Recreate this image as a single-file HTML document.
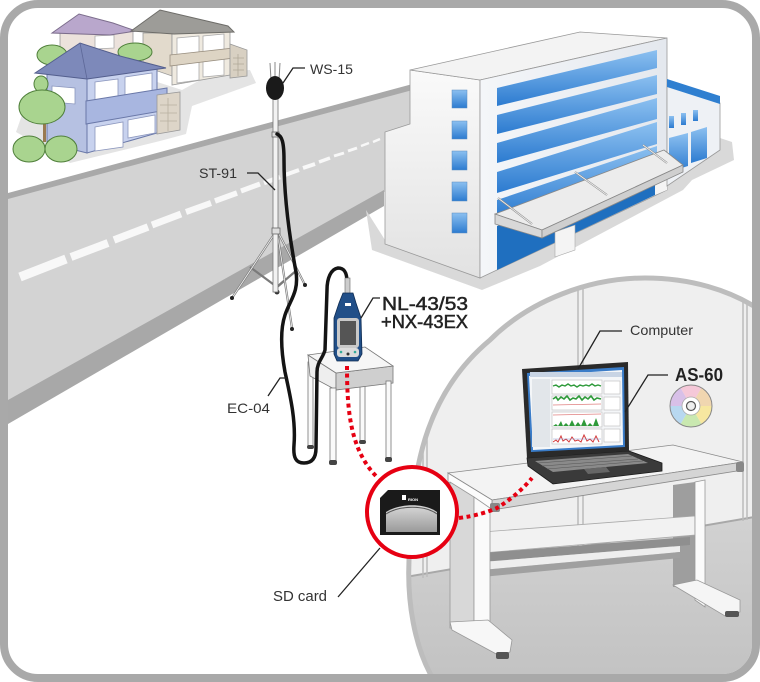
<!DOCTYPE html>
<html><head><meta charset="utf-8"><style>
html,body{margin:0;padding:0;background:#fff;}
svg{display:block;}
text{font-family:"Liberation Sans",Arial,sans-serif;}
</style></head><body>
<svg width="760" height="682" viewBox="0 0 760 682" xmlns="http://www.w3.org/2000/svg">
<defs>
<clipPath id="inner"><rect x="8" y="8" width="744" height="666" rx="30"/></clipPath>
<clipPath id="circ"><path d="M435,682 C415,650 405,600 410,545 C412,460 430,390 490,340 C530,300 590,278 645,278 C690,278 730,290 760,310 L760,682 Z"/></clipPath>
<linearGradient id="bb" x1="0" y1="0" x2="0" y2="1"><stop offset="0" stop-color="#8cc0f0"/><stop offset="1" stop-color="#2c7bd0"/></linearGradient>
<linearGradient id="lf" x1="0" y1="0" x2="0" y2="1"><stop offset="0" stop-color="#fafafa"/><stop offset="1" stop-color="#e2e2e2"/></linearGradient>
<linearGradient id="ff" x1="0" y1="0" x2="1" y2="0"><stop offset="0" stop-color="#f4f6f9"/><stop offset="1" stop-color="#e4e8ee"/></linearGradient>
<linearGradient id="floor" x1="0" y1="0" x2="0" y2="1"><stop offset="0" stop-color="#d2d2d2"/><stop offset="1" stop-color="#c2c2c2"/></linearGradient>
<linearGradient id="sd" x1="0" y1="0" x2="0" y2="1"><stop offset="0" stop-color="#d8d8d8"/><stop offset="1" stop-color="#9a9a9a"/></linearGradient>
</defs>
<rect width="760" height="682" fill="#fff"/>
<g clip-path="url(#inner)">
<rect x="0" y="0" width="760" height="682" fill="#fff"/>

<!-- houses ground shadow -->
<polygon points="16,132 70,163 160,141 186,134 192,106 256,83 250,70 215,72 182,90 120,70 30,92" fill="#e4e4e4"/>

<!-- back purple house -->
<polygon points="60,33 133,31 133,62 60,62" fill="#ece2dc" stroke="#999" stroke-width="0.8"/>
<polygon points="95,36 114,35 114,48 95,49" fill="#fff" stroke="#aaa" stroke-width="0.8"/>
<polygon points="52,33 79,14 113,23 136,31 110,35" fill="#b9a7cc" stroke="#7c6d8c" stroke-width="1"/>

<!-- beige house -->
<polygon points="143,33 172,33 172,76 143,66" fill="#e2dacc" stroke="#999" stroke-width="0.8"/>
<polygon points="172,32 230,28 230,75 172,85" fill="#efeae0" stroke="#999" stroke-width="0.8"/>
<polygon points="177,38 199,36 199,54 177,56" fill="#fff" stroke="#aaa" stroke-width="0.8"/>
<polygon points="203,36 224,34 224,50 203,52" fill="#fff" stroke="#aaa" stroke-width="0.8"/>
<polygon points="177,64 199,62 199,80 177,83" fill="#fff" stroke="#aaa" stroke-width="0.8"/>
<polygon points="203,61 224,59 224,75 203,77" fill="#fff" stroke="#aaa" stroke-width="0.8"/>
<polygon points="170,55 234,48 234,58 170,66" fill="#ddd4c4" stroke="#998f80" stroke-width="0.8"/>
<polygon points="230,44 247,50 247,76 230,78" fill="#d8d0c2" stroke="#999" stroke-width="0.8"/>
<path d="M233,58 h11 M233,64 h11 M233,70 h11 M238,54 v22" stroke="#b0a898" stroke-width="0.8"/>
<polygon points="131,31 160,10 228,26 234,32 174,34" fill="#9d9c98" stroke="#6e6d69" stroke-width="1"/>

<!-- back trees -->
<ellipse cx="52" cy="55" rx="15" ry="10" fill="#a9d48f" stroke="#4f7f3a" stroke-width="1"/>
<ellipse cx="135" cy="52" rx="17" ry="9" fill="#a9d48f" stroke="#4f7f3a" stroke-width="1"/>

<!-- blue house -->
<polygon points="47,72 87,78 87,153 47,143" fill="#b6c1e2" stroke="#6a78a8" stroke-width="1"/>
<polygon points="87,78 157,68 157,133 87,153" fill="#c8d2ee" stroke="#6a78a8" stroke-width="1"/>
<polygon points="52,86 75,88 75,104 52,102" fill="#fff" stroke="#8b96bd" stroke-width="0.8"/>
<polygon points="95,82 118,79 118,98 95,101" fill="#fff" stroke="#8b96bd" stroke-width="0.8"/>
<polygon points="125,77 152,73 152,92 125,95" fill="#fff" stroke="#8b96bd" stroke-width="0.8"/>
<polygon points="95,127 123,122 123,147 95,151" fill="#fff" stroke="#8b96bd" stroke-width="0.8"/>
<polygon points="128,120 155,115 155,133 128,138" fill="#fff" stroke="#8b96bd" stroke-width="0.8"/>
<polygon points="86,101 167,88 167,110 86,124" fill="#a8b6e0" stroke="#6a78a8" stroke-width="1"/>
<polygon points="157,95 180,92 180,130 157,134" fill="#ddd5c8" stroke="#999" stroke-width="0.8"/>
<path d="M160,105 h17 M160,113 h17 M160,121 h17 M168,98 v33" stroke="#b8b0a0" stroke-width="0.8"/>
<polygon points="35,73 80,43 120,56 166,68 87,79" fill="#7d89ba" stroke="#545f8e" stroke-width="1"/>
<line x1="80" y1="43" x2="87" y2="79" stroke="#5d6898" stroke-width="0.8"/>

<!-- front trees -->
<ellipse cx="41" cy="84" rx="7" ry="8" fill="#a9d48f" stroke="#4f7f3a" stroke-width="1"/>
<rect x="43" y="118" width="3" height="24" fill="#9a7a50"/>
<ellipse cx="42" cy="107" rx="23" ry="17" fill="#a9d48f" stroke="#4f7f3a" stroke-width="1"/>
<ellipse cx="29" cy="149" rx="16" ry="13" fill="#a9d48f" stroke="#4f7f3a" stroke-width="1"/>
<ellipse cx="61" cy="149" rx="16" ry="13" fill="#a9d48f" stroke="#4f7f3a" stroke-width="1"/>

<!-- road -->
<polygon points="8,193 420,82 420,89 8,200" fill="#a9a9a9"/>
<polygon points="8,199 420,88 420,192 383,192 8,401" fill="#d3d3d3"/>
<polygon points="8,400 384,190 384,206 8,424" fill="#a8a8a8"/>
<g stroke="#f8f8f8" stroke-linecap="butt">
<line x1="20" y1="277" x2="66" y2="259" stroke-width="9"/>
<line x1="71" y1="257" x2="108" y2="243" stroke-width="8"/>
<line x1="114" y1="240" x2="148" y2="227" stroke-width="7.5"/>
<line x1="152" y1="225" x2="181" y2="214" stroke-width="7"/>
<line x1="186" y1="212" x2="211" y2="203" stroke-width="6"/>
<line x1="215" y1="201" x2="237" y2="193" stroke-width="5.5"/>
<line x1="241" y1="191" x2="260" y2="184" stroke-width="5"/>
<line x1="264" y1="183" x2="280" y2="177" stroke-width="4.5"/>
<line x1="285" y1="175" x2="299" y2="170" stroke-width="4"/>
<line x1="303" y1="168" x2="315" y2="164" stroke-width="4"/>
<line x1="319" y1="162" x2="330" y2="158" stroke-width="3.5"/>
<line x1="334" y1="156" x2="344" y2="153" stroke-width="3"/>
<line x1="348" y1="151" x2="357" y2="148" stroke-width="3"/>
<line x1="361" y1="146" x2="369" y2="143" stroke-width="2.5"/>
<line x1="373" y1="142" x2="380" y2="139" stroke-width="2.5"/>
</g>

<!-- building shadow -->
<polygon points="366,210 372,250 482,290 540,266 683,190 692,180 734,160 732,142 720,138 667,175 480,270 385,240" fill="#d9d9d9"/>

<!-- building -->
<polygon points="410,70 480,80 480,278 385,244 385,132 410,124" fill="url(#lf)" stroke="#9a9a9a" stroke-width="0.8"/>
<g fill="url(#bb)" stroke="#5a8cc0" stroke-width="0.5">
<rect x="452" y="90" width="15" height="18"/>
<rect x="452" y="121" width="15" height="18"/>
<rect x="452" y="151" width="15" height="19"/>
<rect x="452" y="182" width="15" height="19"/>
<rect x="452" y="213" width="15" height="20"/>
</g>
<polygon points="410,70 580,32 667,38 480,80" fill="#f3f3f3" stroke="#999" stroke-width="0.8"/>
<polygon points="480,80 667,38 667,190 480,278" fill="url(#ff)" stroke="#999" stroke-width="0.8"/>
<g fill="url(#bb)">
<polygon points="497,88 657,50 657,68 497,106"/>
<polygon points="497,115 657,75 657,94 497,134"/>
<polygon points="497,143 657,98 657,119 497,163"/>
<polygon points="497,172 657,122 657,144 497,193"/>
<polygon points="497,200 657,146 657,168 497,218"/>
</g>
<polygon points="497,226 657,170 657,194 497,270" fill="#1f6fbf"/>
<polygon points="555,232 575,225 575,250 555,257" fill="#f4f4f4" stroke="#aaa" stroke-width="0.6"/>
<polygon points="655,178 667,174 667,190 655,195" fill="#f4f4f4"/>
<!-- right wing -->
<polygon points="667,85 720,103 720,150 667,186" fill="#eef1f5" stroke="#999" stroke-width="0.8"/>
<polygon points="667,79 720,96 720,104 667,87" fill="#2f7fd0"/>
<g fill="url(#bb)">
<rect x="669" y="116" width="5" height="12"/>
<rect x="681" y="113" width="5" height="12"/>
<rect x="693" y="110" width="5" height="11"/>
<polygon points="669,138 688,133 688,166 669,172"/>
<polygon points="691,132 707,127 707,158 691,163"/>
</g>
<!-- canopy -->
<polygon points="495,214 542,230 683,165 664,150" fill="#ececec" stroke="#888" stroke-width="0.8"/>
<polygon points="495,214 542,230 542,238 495,224" fill="#d8d8d8" stroke="#888" stroke-width="0.8"/>
<polygon points="542,230 683,165 683,172 542,238" fill="#cfcfcf" stroke="#888" stroke-width="0.8"/>
<g stroke="#8a8a8a" stroke-width="2"><line x1="498" y1="198" x2="532" y2="224"/><line x1="575" y1="172" x2="607" y2="195"/><line x1="643" y1="145" x2="667" y2="163"/></g>
<g stroke="#f2f2f2" stroke-width="0.8"><line x1="498" y1="198" x2="532" y2="224"/><line x1="575" y1="172" x2="607" y2="195"/><line x1="643" y1="145" x2="667" y2="163"/></g>

<!-- tripod stand -->
<g stroke="#7a7a7a" stroke-width="2.2" fill="none">
<line x1="277" y1="230" x2="232" y2="298"/>
<line x1="277" y1="230" x2="305" y2="285"/>
<line x1="277" y1="230" x2="292" y2="328"/>
<line x1="277" y1="287" x2="250" y2="267"/>
<line x1="277" y1="287" x2="297" y2="270"/>
<line x1="277" y1="287" x2="285" y2="280"/>
</g>
<g stroke="#f5f5f5" stroke-width="0.8" fill="none">
<line x1="277" y1="230" x2="232" y2="298"/>
<line x1="277" y1="230" x2="305" y2="285"/>
<line x1="277" y1="230" x2="292" y2="328"/>
</g>
<circle cx="232" cy="298" r="2" fill="#222"/><circle cx="305" cy="285" r="2" fill="#222"/><circle cx="292" cy="329" r="2" fill="#222"/><circle cx="277" cy="292" r="2.5" fill="#333"/>
<rect x="273" y="98" width="5" height="194" fill="#f2f2f2" stroke="#777" stroke-width="0.8"/>
<rect x="272" y="132" width="7" height="5" fill="#ddd" stroke="#666" stroke-width="0.8"/>
<rect x="272" y="228" width="8" height="6" fill="#ddd" stroke="#666" stroke-width="0.8"/>
<!-- mic -->
<g stroke="#888" stroke-width="1"><line x1="270" y1="63" x2="271" y2="80"/><line x1="275" y1="62" x2="275" y2="80"/><line x1="280" y1="63" x2="279" y2="80"/></g>
<ellipse cx="275" cy="88" rx="9" ry="12" fill="#1a1a1a"/>

<!-- small table -->
<g stroke="#777" stroke-width="0.8">
<rect x="308" y="362" width="5" height="86" fill="#fafafa"/>
<rect x="360" y="355" width="5" height="88" fill="#fafafa"/>
<polygon points="308,355 336,373 336,390 310,376" fill="#eee"/>
<polygon points="336,373 393,366 393,383 336,390" fill="#cfcfcf"/>
<polygon points="308,355 365,347 393,366 336,373" fill="#f6f6f6"/>
<rect x="330" y="388" width="6" height="76" fill="#fafafa"/>
<rect x="386" y="381" width="5" height="79" fill="#fafafa"/>
</g>
<rect x="329" y="460" width="8" height="5" rx="2" fill="#444"/>
<rect x="385" y="457" width="7" height="5" rx="2" fill="#444"/>
<rect x="307" y="445" width="7" height="4" rx="2" fill="#444"/>
<rect x="359" y="440" width="7" height="4" rx="2" fill="#444"/>

<!-- cable -->
<path d="M277,134 C282,136 284,142 284,160 C284,200 291,245 296,272 C299,292 290,300 285,315 C280,330 281,350 285,372 C290,395 296,420 294,445 C293,458 296,463 304,463 C312,463 316,458 316,448 L317,372 C317,362 323,358 325,350 L327,290 C327,278 331,269 338,268 C344,268 347,272 347,282" fill="none" stroke="#141414" stroke-width="3.5" stroke-linecap="round"/>

<!-- meter -->
<rect x="345" y="278" width="5" height="16" fill="#ccc" stroke="#666" stroke-width="0.6"/>
<polygon points="343,293 353,293 356,303 361,318 362,354 358,361 337,361 334,354 334,318 339,303" fill="#214f88" stroke="#0f2c52" stroke-width="0.8"/>
<rect x="337" y="318" width="22" height="30" rx="3" fill="#c9c9c9"/>
<rect x="340" y="321" width="16" height="24" fill="#555"/>
<rect x="337" y="348" width="22" height="9" rx="3" fill="#dcdcdc"/>
<circle cx="341" cy="352" r="1.3" fill="#3a9"/><circle cx="355" cy="352" r="1.3" fill="#3a9"/><circle cx="348" cy="354" r="1.5" fill="#333"/>
<rect x="345" y="303" width="6" height="3" fill="#fff"/>

<!-- big circle interior -->
<g clip-path="url(#circ)">
<rect x="400" y="270" width="360" height="412" fill="#efefef"/>
<polygon points="400,578 760,516 760,682 400,682" fill="url(#floor)"/>
<line x1="400" y1="578" x2="760" y2="516" stroke="#a8a8a8" stroke-width="2"/>
<g stroke="#bcbcbc" stroke-width="1.5">
<line x1="423" y1="425" x2="423" y2="578"/><line x1="427" y1="425" x2="427" y2="577"/>
<line x1="578" y1="270" x2="578" y2="550"/><line x1="583" y1="270" x2="583" y2="549"/>
<line x1="743" y1="280" x2="743" y2="521"/><line x1="747" y1="280" x2="747" y2="520"/>
</g>
<!-- desk right leg -->
<polygon points="673,485 695,482 695,587 673,587" fill="#9e9e9e"/>
<!-- crossbars -->
<polygon points="482,532 695,516 695,535 482,553" fill="#f2f2f2" stroke="#aaa" stroke-width="0.8"/>
<polygon points="482,553 690,537 690,545 482,562" fill="#8f8f8f"/>
<polygon points="482,562 680,546 680,552 482,570" fill="#eee"/>
<polygon points="482,570 680,552 680,558 482,577" fill="#a0a0a0"/>
<polygon points="695,482 705,480 705,607 695,600" fill="#fafafa" stroke="#999" stroke-width="0.8"/>
<polygon points="673,585 697,580 740,600 740,612 725,616" fill="#f5f5f5" stroke="#999" stroke-width="0.8"/>
<rect x="725" y="611" width="14" height="6" rx="2" fill="#555"/>
<!-- desk top -->
<polygon points="448,473 673,445 743,462 492,500" fill="#f3f3f3" stroke="#8a8a8a" stroke-width="0.8"/>
<polygon points="492,500 743,462 743,470 492,510" fill="#d5d5d5" stroke="#8a8a8a" stroke-width="0.8"/>
<polygon points="448,473 492,500 492,510 448,482" fill="#fcfcfc" stroke="#8a8a8a" stroke-width="0.8"/>
<rect x="736" y="462" width="8" height="10" rx="2" fill="#888"/>
<!-- left leg -->
<polygon points="450,482 474,497 474,628 450,628" fill="#d8d8d8" stroke="#999" stroke-width="0.8"/>
<polygon points="474,497 490,508 490,632 474,624" fill="#fafafa" stroke="#999" stroke-width="0.8"/>
<polygon points="450,622 488,620 512,640 510,652 500,656 452,630" fill="#f7f7f7" stroke="#999" stroke-width="0.8"/>
<rect x="496" y="652" width="13" height="7" rx="2" fill="#555"/>
<rect x="490" y="503" width="10" height="9" rx="2" fill="#888"/>
<!-- laptop -->
<polygon points="527,458 629,451 662,463 662,471 553,484 528,466" fill="#3a3a3a" stroke="#1a1a1a" stroke-width="0.8"/>
<polygon points="535,461 628,454 648,463 553,472" fill="#8a8a8a"/>
<g stroke="#555" stroke-width="0.5"><line x1="538" y1="463" x2="632" y2="456"/><line x1="542" y1="466" x2="638" y2="459"/><line x1="547" y1="469" x2="643" y2="461"/></g>
<polygon points="584,469 606,467 610,472 588,474" fill="#666"/>
<polygon points="522,369 628,362 629,451 527,458" fill="#2a2a2a"/>
<polygon points="527,373 624,367 625,447 531,452" fill="#3a7cc8"/>
<polygon points="529,376 622,370 623,445 533,450" fill="#f4f6f8"/>
<rect x="530" y="372" width="92" height="5" fill="#c8d4e4"/>
<rect x="532" y="379" width="18" height="68" fill="#e2e6ea"/>
<g stroke="#bbb" stroke-width="0.6" fill="#fff">
<rect x="552" y="380" width="50" height="14"/><rect x="552" y="396" width="50" height="14"/><rect x="552" y="412" width="50" height="15"/><rect x="552" y="429" width="50" height="15"/>
<rect x="604" y="381" width="16" height="13"/><rect x="604" y="397" width="16" height="13"/><rect x="604" y="413" width="16" height="13"/><rect x="604" y="429" width="16" height="13"/>
</g>
<polyline points="553,386 556,385 559,387 562,385 565,386 568,384 571,386 574,385 577,387 580,385 583,386 586,385 589,386 592,384 595,386 598,385 601,386" fill="none" stroke="#2e9a3a" stroke-width="1.4"/>
<polyline points="553,399 556,397 558,400 561,397 564,399 567,396 570,400 573,398 576,399 579,396 582,400 585,397 588,399 591,396 594,400 597,398 601,399" fill="none" stroke="#2e9a3a" stroke-width="1.6"/>
<line x1="553" y1="405" x2="601" y2="404" stroke="#e08080" stroke-width="0.8"/>
<line x1="553" y1="415" x2="601" y2="414" stroke="#e08080" stroke-width="0.8"/>
<polygon points="553,426 556,424 558,426 561,421 563,426 566,423 569,426 572,420 575,426 578,422 581,426 584,419 587,426 590,423 593,426 596,418 599,426 601,426" fill="#2e9a3a"/>
<polyline points="553,442 556,440 558,442 561,436 563,441 566,439 569,442 572,437 575,441 578,440 581,442 584,435 587,441 590,439 593,442 596,436 599,442" fill="none" stroke="#d43a3a" stroke-width="1"/>
<line x1="553" y1="439" x2="601" y2="439" stroke="#8aa0d8" stroke-width="0.6"/>
<!-- CD -->
<g stroke="none">
<path d="M691,406 L712,406 A21,21 0 0 1 701.5,424.2 Z" fill="#f7e7a0"/>
<path d="M691,406 L701.5,424.2 A21,21 0 0 1 680.5,424.2 Z" fill="#c9e8b0"/>
<path d="M691,406 L680.5,424.2 A21,21 0 0 1 670,406 Z" fill="#b8d8f0"/>
<path d="M691,406 L670,406 A21,21 0 0 1 680.5,387.8 Z" fill="#d8c0e8"/>
<path d="M691,406 L680.5,387.8 A21,21 0 0 1 701.5,387.8 Z" fill="#f5c8d8"/>
<path d="M691,406 L701.5,387.8 A21,21 0 0 1 712,406 Z" fill="#f0d6b0"/>
</g>
<circle cx="691" cy="406" r="21" fill="none" stroke="#888" stroke-width="1"/>
<circle cx="691" cy="406" r="9" fill="#fff" stroke="#aaa" stroke-width="0.8"/>
<circle cx="691" cy="406" r="4.5" fill="#eee" stroke="#555" stroke-width="1.2"/>
</g>
<!-- big circle border -->
<path d="M435,682 C415,650 405,600 410,545 C412,460 430,390 490,340 C530,300 590,278 645,278 C690,278 730,290 760,310" fill="none" stroke="#bdbdbd" stroke-width="5"/>

<!-- SD zoom circle -->
<circle cx="412" cy="512" r="45" fill="#fff" stroke="#e60012" stroke-width="4"/>
<polygon points="388,490 440,490 440,535 380,535 380,498" fill="#1a1a1a"/>
<path d="M386,532 L386,512 C400,503 425,503 437,512 L437,532 Z" fill="url(#sd)"/>
<path d="M386,514 C400,505 425,505 437,514" fill="none" stroke="#555" stroke-width="1"/>
<text x="408" y="501" font-size="4" fill="#fff" font-weight="bold">RION</text>
<rect x="402" y="495" width="4" height="5" fill="#fff"/>

<!-- red dotted lines -->
<path d="M347,366 C347,410 350,450 377,477" fill="none" stroke="#e60012" stroke-width="4" stroke-dasharray="4 3.5"/>
<path d="M459,518 C475,516 488,512 497,508 C510,500 522,490 532,478" fill="none" stroke="#e60012" stroke-width="4" stroke-dasharray="4 3.5"/>

<!-- leaders -->
<g fill="none" stroke="#222" stroke-width="1.3">
<polyline points="283,83 293,68 305,68"/>
<polyline points="247,173 258,173 275,190"/>
<polyline points="268,396 280,378 287,378"/>
<polyline points="361,318 373,298 380,298"/>
<polyline points="578,369 600,331 622,331"/>
<polyline points="625,412 648,375 668,375"/>
<polyline points="338,597 380,548"/>
</g>

<!-- labels -->
<text x="310" y="74" font-size="14" fill="#333" textLength="43" lengthAdjust="spacingAndGlyphs">WS-15</text>
<text x="199" y="178" font-size="14" fill="#333" textLength="38" lengthAdjust="spacingAndGlyphs">ST-91</text>
<text x="227" y="413" font-size="14" fill="#333" textLength="43" lengthAdjust="spacingAndGlyphs">EC-04</text>
<text x="630" y="335" font-size="14" fill="#333" textLength="63" lengthAdjust="spacingAndGlyphs">Computer</text>
<text x="273" y="601" font-size="14.5" fill="#333" textLength="54" lengthAdjust="spacingAndGlyphs">SD card</text>
<text x="382" y="310" font-size="18" fill="#222" stroke="#222" stroke-width="0.5" textLength="86" lengthAdjust="spacingAndGlyphs">NL-43/53</text>
<text x="381" y="328" font-size="18" fill="#222" stroke="#222" stroke-width="0.5" textLength="87" lengthAdjust="spacingAndGlyphs">+NX-43EX</text>
<text x="675" y="381" font-size="18" font-weight="bold" fill="#222" textLength="48" lengthAdjust="spacingAndGlyphs">AS-60</text>
</g>
<rect x="4" y="4" width="752" height="674" rx="34" fill="none" stroke="#a9a9a9" stroke-width="8"/>
</svg>
</body></html>
